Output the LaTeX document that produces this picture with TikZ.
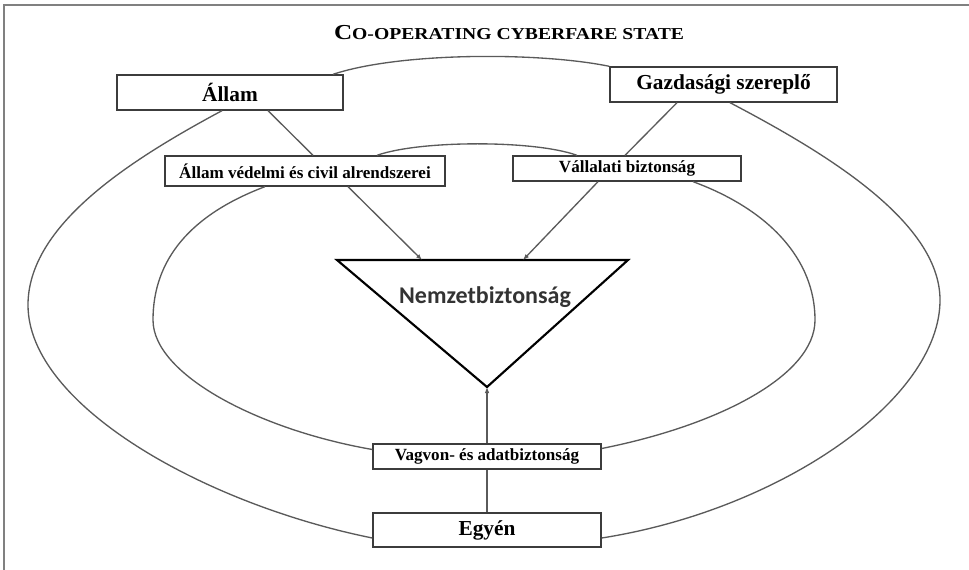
\documentclass[tikz,border=0pt]{standalone}
\usepackage{fontspec}
\setmainfont{Liberation Serif}
\newfontfamily\calibrifont{Carlito}
\usetikzlibrary{arrows.meta,calc}

\definecolor{vonal}{HTML}{5A5A5A}
\definecolor{keret}{HTML}{3C3C3C}

\begin{document}
\begin{tikzpicture}[x=0.75pt,y=-0.75pt,line width=1pt,>={Latex[length=4.5pt,width=3.5pt]},
  doboz/.style={draw=keret,line width=1pt,fill=white,inner sep=0pt},
  nagy/.style={doboz,minimum height=26.25pt,font=\fontsize{16}{18}\selectfont\bfseries},
  kicsi/.style={doboz,minimum height=18.75pt,font=\fontsize{12.8}{15}\selectfont\bfseries},
  iv/.style={draw=vonal,line width=1pt}]
  \useasboundingbox (0,0) rectangle (969,570);
  % keret
  \draw[line width=1.5pt,gray] (4,570) -- (4,5) -- (969,5);
  % cim
  \node[font=\bfseries,xscale=1.18,transform shape] (cim) at (509,33)
    {{\fontsize{16}{18}\selectfont C}\fontsize{12.5}{15}\selectfont O-OPERATING CYBERFARE STATE};
  % dobozok
  \node[nagy,minimum width=169.5pt] (allam) at (230,92.5) {Állam};
  \node[nagy,minimum width=170.25pt] (gazd) at (723.5,84.5) {Gazdasági szereplő};
  \node[kicsi,minimum width=210pt,minimum height=22.5pt] (vedelmi) at (305,171) {Állam védelmi és civil alrendszerei};
  \node[kicsi,minimum width=171pt] (vallalati) at (627,168.5) {Vállalati biztonság};
  \node[kicsi,minimum width=171pt] (vagyon) at (487,456.5) {Vagvon- és adatbiztonság};
  \node[nagy,minimum width=171pt,minimum height=25.5pt] (egyen) at (487,530) {Egyén};
  % haromszog
  \coordinate (tri-l) at (337,260);
  \coordinate (tri-r) at (628,260);
  \coordinate (tri-b) at (487,387);
  \coordinate (be1) at (422,260);
  \coordinate (be2) at (523,260);
  \draw[line width=1.6pt] (tri-l) -- (tri-r) -- (tri-b) -- cycle;
  \node[font=\calibrifont\bfseries\fontsize{18}{20}\selectfont,text=black!80] (nemzet) at (485,297) {Nemzetbiztonság};
  % kulso ellipszis
  \draw[iv] ($(allam.north)+(103,0)$) .. controls (400,52) and (540,52) .. (gazd.north west);
  \draw[iv] ($(allam.south)+(-8,0)$) .. controls (130,160) and (28,225) .. (28,305)
    .. controls (28,405) and (204,504) .. ($(egyen.west)+(0,8)$);
  \draw[iv] ($(gazd.south)+(6.5,0)$) .. controls (820,150) and (940,220) .. (940,300)
    .. controls (940,400) and (780,510) .. ($(egyen.east)+(0,8)$);
  % belso ellipszis
  \draw[iv] ($(vedelmi.north)+(72,0)$) .. controls (420,140) and (535,140) .. ($(vallalati.north)+(-50,0)$);
  \draw[iv] ($(vedelmi.south)+(-40,0)$) .. controls (190,215) and (153,260) .. (153,320)
    .. controls (153,375) and (260,430) .. ($(vagyon.west)+(0,-7)$);
  \draw[iv] ($(vallalati.south)+(66,0)$) .. controls (770,210) and (815,260) .. (815,320)
    .. controls (815,375) and (720,425) .. ($(vagyon.east)+(0,-8)$);
  % kapcsolatok
  \draw[iv] ($(allam.south)+(38,0)$) -- ($(vedelmi.north)+(8,0)$);
  \draw[iv] ($(gazd.south)+(-46.5,0)$) -- ($(vallalati.north)+(-2,0)$);
  \draw[iv,->] ($(vedelmi.south)+(43,0)$) -- (be1);
  \draw[iv,->] ($(vallalati.south)+(-29,0)$) -- (be2);
  \draw[iv] (egyen) -- (vagyon);
  \draw[iv,->] (vagyon) -- (tri-b);
\end{tikzpicture}
\end{document}
